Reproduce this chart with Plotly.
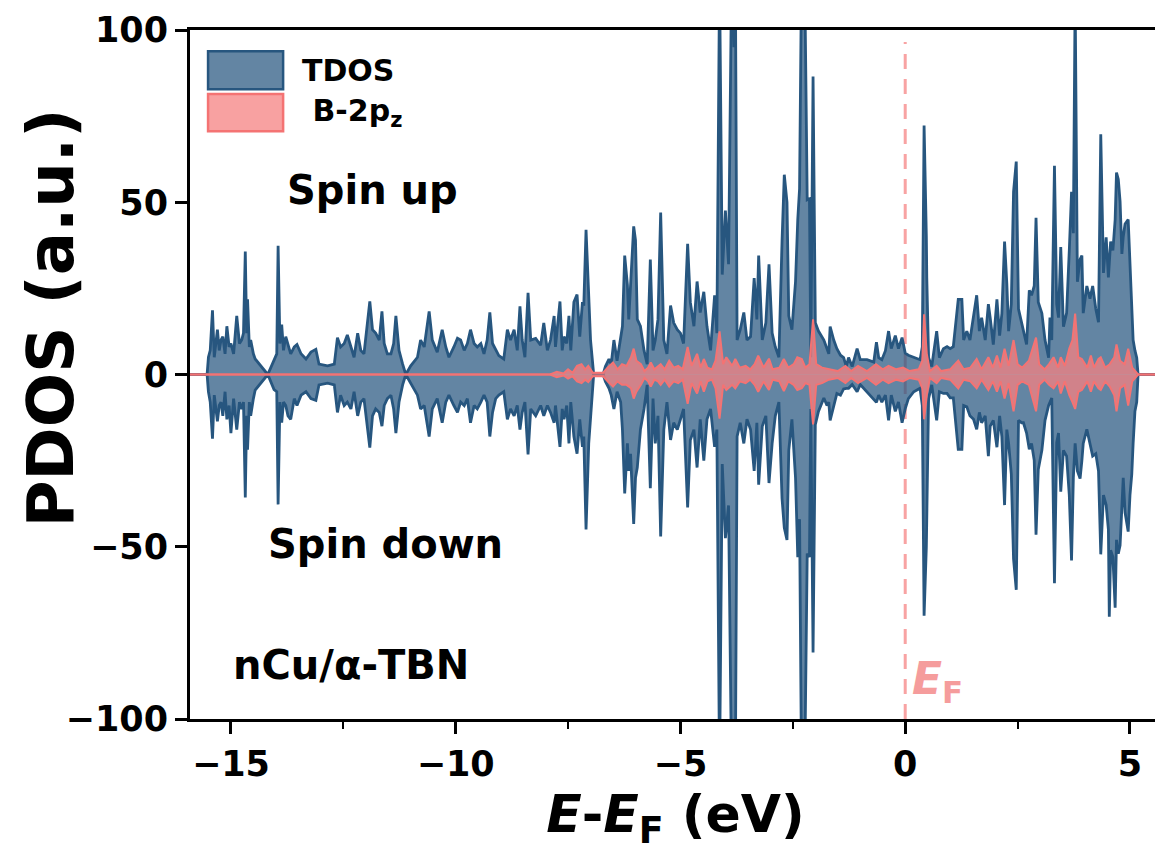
import plotly.graph_objects as go

# ---------------- data ----------------
tdos_energy = [
    -16.2, -15.53, -15.50, -15.46, -15.41, -15.37, -15.30, -15.26, -15.22, -15.18,
    -15.13, -15.09, -15.04, -15.00, -14.94, -14.87, -14.81, -14.76, -14.72, -14.68,
    -14.65, -14.63, -14.59, -14.56, -14.50, -14.46, -14.18, -14.04, -13.98, -13.95,
    -13.91, -13.87, -13.83, -13.78, -13.73, -13.67, -13.59, -13.53, -13.44, -13.33,
    -13.22, -13.11, -13.04, -12.85, -12.70, -12.63, -12.56, -12.48, -12.41, -12.33,
    -12.26, -12.18, -12.11, -12.04, -11.91, -11.85, -11.78, -11.70, -11.64, -11.59,
    -11.52, -11.44, -11.38, -11.33, -11.26, -11.18, -11.11, -11.00, -10.85, -10.78,
    -10.70, -10.59, -10.52, -10.41, -10.30, -10.22, -10.15, -10.04, -9.96, -9.89,
    -9.81, -9.74, -9.67, -9.59, -9.52, -9.44, -9.37, -9.30, -9.24, -9.18,
    -9.11, -9.04, -8.93, -8.85, -8.78, -8.70, -8.63, -8.57, -8.52, -8.46,
    -8.39, -8.33, -8.22, -8.11, -8.04, -7.96, -7.89, -7.81, -7.78, -7.68,
    -7.63, -7.59, -7.53, -7.48, -7.44, -7.37, -7.30, -7.24, -7.18, -7.15,
    -7.10, -7.04, -7.00, -6.93, -6.72, -6.67, -6.59, -6.54, -6.48, -6.41,
    -6.33, -6.29, -6.24, -6.18, -6.15, -6.11, -6.04, -6.00, -5.96, -5.89,
    -5.81, -5.74, -5.67, -5.61, -5.56, -5.50, -5.44, -5.37, -5.30, -5.22,
    -5.15, -5.07, -5.00, -4.93, -4.84, -4.78, -4.70, -4.63, -4.56, -4.48,
    -4.41, -4.33, -4.24, -4.19, -4.13, -4.07, -4.00, -3.93, -3.85, -3.81,
    -3.78, -3.74, -3.67, -3.59, -3.52, -3.44, -3.36, -3.30, -3.26, -3.18,
    -3.10, -3.03, -2.96, -2.89, -2.81, -2.74, -2.69, -2.63, -2.59, -2.52,
    -2.44, -2.39, -2.35, -2.30, -2.24, -2.18, -2.13, -2.10, -2.05, -2.00,
    -1.93, -1.81, -1.74, -1.70, -1.67, -1.59, -1.52, -1.44, -1.37, -1.31,
    -1.26, -1.18, -1.07, -1.00, -0.85, -0.70, -0.64, -0.59, -0.52, -0.44,
    -0.37, -0.31, -0.22, -0.15, -0.07, 0.00, 0.07, 0.19, 0.33, 0.38,
    0.42, 0.47, 0.48, 0.52, 0.59, 0.70, 0.76, 0.85, 0.93, 1.00,
    1.07, 1.18, 1.26, 1.30, 1.37, 1.44, 1.52, 1.59, 1.65, 1.70,
    1.78, 1.85, 1.89, 1.96, 2.04, 2.10, 2.15, 2.21, 2.26, 2.30,
    2.36, 2.41, 2.47, 2.52, 2.59, 2.63, 2.70, 2.76, 2.81, 2.87,
    2.91, 2.96, 3.04, 3.11, 3.19, 3.22, 3.26, 3.32, 3.37, 3.41,
    3.46, 3.52, 3.59, 3.65, 3.70, 3.74, 3.78, 3.83, 3.89, 3.93,
    3.96, 4.04, 4.11, 4.17, 4.24, 4.30, 4.35, 4.41, 4.47, 4.52,
    4.54, 4.57, 4.62, 4.67, 4.70, 4.74, 4.78, 4.82, 4.85, 4.89,
    4.96, 5.00, 5.04, 5.07, 5.11, 5.15, 5.18, 6.2,
]
tdos_up = [
    0, 0, 5, 7, 18.6, 5, 13, 7, 10, 11,
    6, 14, 8, 9, 6, 17, 9, 10, 12, 35.7,
    12, 21.8, 8, 10, 6, 4.5, 0, 4.4, 6, 37.4,
    9, 14.5, 7, 11, 8.5, 6, 8, 8.7, 6, 4.5,
    6.5, 7.3, 3, 2.5, 3, 10.7, 8, 9, 11.5, 8,
    5, 12, 7, 6, 21.2, 13, 12, 10, 18.3, 9,
    6, 6, 9, 17, 7, 3, 0, 2.5, 5, 10,
    8, 18.3, 10, 6.5, 13, 8, 5, 8, 10.5, 10,
    7, 9, 13, 9, 8, 9, 6, 10, 18, 9,
    7, 5.5, 4.5, 13, 10, 13, 7, 19.8, 10, 5,
    23.7, 10, 10.5, 8.5, 15, 7, 10, 17, 8, 21.2,
    7, 11, 9, 17, 7, 21, 23.2, 11, 21, 20,
    42, 20, 10, 0, 0, 2.3, 4.5, 3, 10, 4,
    10, 14, 34.5, 26, 16, 25, 43, 39, 16, 14,
    7, 3, 33.4, 7, 10, 16, 47, 10, 6, 20,
    15, 13, 12, 9, 37.9, 21, 14, 27, 18, 24,
    14, 7, 23, 12, 115, 29, 47.6, 32, 130, 95,
    120, 10, 13, 18, 10, 11, 28, 16, 34.5, 10,
    15, 32, 12, 8, 5, 38.6, 58, 50, 17, 13,
    27, 45, 54, 125, 120, 50.7, 51, 5, 86.5, 15,
    12.6, 10, 7.5, 6, 13.9, 10, 7.5, 5.6, 4.9, 2.3,
    4.9, 2.3, 7.5, 4.3, 4.3, 3.6, 9.4, 4.9, 4.3, 6.9,
    12.6, 7.5, 11.3, 7.5, 10.7, 6.2, 5.6, 4.9, 4.3, 8,
    72.3, 40, 28, 4.9, 2.3, 12.6, 4.9, 7.5, 8.1, 7.5,
    8.1, 21.8, 21.8, 10, 12.6, 10, 17.7, 23, 12.6, 16.5,
    10, 20.4, 16.5, 8.7, 21.8, 11.3, 17.7, 38.6, 26.5, 12.6,
    20.4, 53, 61.8, 19, 15, 12.6, 8.7, 24.4, 23, 25.7,
    45.5, 21, 17.8, 10, 4.9, 16.5, 10, 60.6, 20.4, 16.5,
    37, 13.9, 17.8, 36, 53, 41, 110, 26.9, 33.4, 34.5,
    17.8, 25.7, 22, 25.7, 19, 15.2, 69.7, 29.5, 39.8, 28.2,
    33, 38.6, 36, 45, 58.6, 56.7, 50.2, 35, 40, 43.7,
    45, 30, 20, 10, 7, 4.9, 0, 0,
]
tdos_down = [
    0, 0, -5, -8, -18.6, -6, -13.6, -9, -8, -12,
    -5, -13, -9, -17, -7, -16, -8, -10, -8, -35.7,
    -12, -21.8, -8, -12, -7, -4.5, 0, -4.4, -5, -37.7,
    -8, -14, -8, -9, -12, -13, -7, -9, -6, -5,
    -7, -7.5, -3, -2.5, -3, -11, -6, -9, -8, -10,
    -5, -12, -8, -7, -21.2, -12, -10, -11, -15, -9,
    -7, -6, -10, -17, -8, -3, 0, -2.5, -6, -10,
    -9, -18, -10, -7, -14, -8, -6, -9, -11, -8,
    -9, -7, -14, -9, -10, -8, -6, -8, -18, -11,
    -7, -6, -5, -13, -10, -12, -9, -16, -11, -8,
    -23.2, -10, -12, -9, -12, -9, -11, -14, -9, -21,
    -10, -13, -9, -20, -8, -18, -23, -13, -21, -18,
    -45, -20, -12, 0, 0, -2, -4, -6, -10, -5,
    -8, -16, -34.5, -20, -28, -23, -43.4, -30, -27, -16,
    -10, -3, -33, -7, -20, -12, -47, -16, -8, -19,
    -14, -16, -13, -10, -38.6, -19, -16, -27, -13, -25,
    -13, -10, -21, -16, -115, -26, -47.5, -38, -130, -110,
    -120, -18, -14, -20, -13, -16, -28, -14, -32, -15,
    -12, -31.5, -20, -12, -8, -36, -44.5, -48, -22, -13,
    -30, -53, -42, -125, -120, -52, -53, -10, -80.7, -14.6,
    -10.7, -6.8, -9, -8, -13.3, -9, -5.5, -6, -4.2, -4,
    -4, -2.9, -5, -2.9, -5, -7, -8.1, -6, -8, -6,
    -13.3, -6, -10.7, -8, -14, -10, -7, -5, -4, -9,
    -70, -50, -41.8, -7, -3, -13.3, -5, -5.5, -5.5, -6.8,
    -6.8, -21.7, -21.7, -9, -9.4, -12, -13, -15.9, -11, -14,
    -12, -23.7, -15, -13.3, -21.1, -12, -18, -37.9, -16, -20,
    -28.9, -53.5, -62.5, -13.3, -14, -14, -17, -21.7, -20, -24.9,
    -46.5, -27.6, -22, -13.3, -9, -8, -6.8, -60.6, -19.8, -17,
    -34, -22, -23.7, -35, -54, -30, -20, -28, -30.2, -25,
    -20, -15.9, -20, -23.7, -23, -28, -52.2, -35, -37.9, -45,
    -70.3, -51, -53, -67.7, -48, -52, -49.6, -40, -30, -40,
    -45.6, -35, -28.9, -20, -10.7, -8, 0, 0,
]

b2pz_energy = [
    -16.2, -7.90, -7.75, -7.60, -7.50, -7.40, -7.30, -7.20, -7.12, -7.05,
    -6.95, -6.72, -6.62, -6.50, -6.40, -6.30, -6.20, -6.10, -6.04, -5.98,
    -5.88, -5.80, -5.72, -5.66, -5.58, -5.50, -5.44, -5.35, -5.25, -5.15,
    -5.05, -4.95, -4.84, -4.75, -4.63, -4.55, -4.48, -4.40, -4.30, -4.22,
    -4.13, -4.05, -3.98, -3.85, -3.78, -3.68, -3.55, -3.45, -3.35, -3.27,
    -3.15, -3.03, -2.95, -2.80, -2.70, -2.60, -2.48, -2.40, -2.30, -2.22,
    -2.13, -2.05, -1.98, -1.85, -1.70, -1.50, -1.33, -1.20, -1.05, -0.85,
    -0.65, -0.50, -0.37, -0.20, -0.05, 0.10, 0.30, 0.38, 0.42, 0.48,
    0.55, 0.70, 0.80, 1.00, 1.18, 1.30, 1.45, 1.59, 1.70, 1.85,
    1.95, 2.04, 2.12, 2.21, 2.30, 2.41, 2.50, 2.60, 2.75, 2.91,
    2.98, 3.10, 3.20, 3.30, 3.40, 3.46, 3.55, 3.65, 3.72, 3.78,
    3.85, 3.93, 4.05, 4.13, 4.20, 4.30, 4.35, 4.45, 4.55, 4.65,
    4.70, 4.78, 4.88, 4.96, 5.05, 5.18, 6.2,
]
b2pz_up = [
    0, 0, 0.8, 0.3, 1.5, 0.5, 2.5, 3, 1.5, 2.5,
    0.5, 0.5, 2, 3.5, 1.5, 3, 2.5, 5, 7.5, 4,
    3, 1, 2, 3.5, 1.5, 2.5, 3, 1.5, 4, 2,
    2.5, 1.5, 8, 2.5, 6, 2, 4.5, 2, 1.5, 4,
    12.5, 3, 5, 2.5, 4.5, 2, 2.5, 1.5, 3, 5.5,
    2, 4.6, 1.5, 2, 4.5, 2, 3, 5, 4.5, 2,
    3, 16, 3, 2, 1.5, 1, 2.5, 1, 2.5, 1,
    3, 1.5, 2.5, 1.5, 2, 1, 1.5, 4, 17.5, 6,
    1, 2.5, 1, 1.5, 4, 1.5, 2, 4.5, 1.5, 5,
    2, 5.5, 2, 7.5, 2.5, 10, 3, 2, 4, 10.7,
    3, 1.5, 3, 5, 2, 5, 2.5, 7.5, 10, 17.7,
    5, 4.5, 2, 5.5, 2, 4.5, 5, 2, 3, 5,
    8.7, 4, 3, 7.5, 2, 0, 0,
]
b2pz_down = [
    0, 0, -0.8, -0.3, -1.2, -0.5, -2, -2.5, -1.5, -2.2,
    -0.5, -0.5, -2, -3.5, -2, -3, -3, -4, -7, -5,
    -3, -1, -2, -3.5, -1.5, -2, -3, -1.5, -3.5, -2,
    -2.5, -1.5, -8.5, -2.5, -5.5, -2, -5, -2, -1.5, -4,
    -12.8, -3, -4.5, -3, -4, -2, -2.5, -1.5, -3, -5,
    -2, -4.5, -1.5, -2, -4.8, -2, -3, -4.5, -4, -2.5,
    -3, -14.5, -3, -2.5, -1.5, -1, -2.5, -1, -2.5, -1,
    -3, -1.5, -2.5, -1.5, -2, -1, -1.5, -4, -13, -6,
    -1, -2.5, -1, -1.5, -4, -1.5, -2, -4, -1.5, -4.5,
    -2, -5, -2, -7, -2.5, -10.7, -3, -2, -3, -10.7,
    -3, -1.5, -3, -4, -2, -5.5, -2, -6, -8, -10,
    -5, -4.5, -2, -5, -2, -4, -4.5, -2, -3.5, -6,
    -10.7, -4, -3, -9, -2, 0, 0,
]

x_ticks = [-15, -10, -5, 0, 5]
y_ticks = [-100, -50, 0, 50, 100]
legend_labels = ["TDOS", " B-2p<sub>z</sub>"]

# ---------------- styles ----------------
TDOS_LINE = "#27567F"
TDOS_FILL = "rgba(39,86,127,0.72)"
B_LINE = "#F47373"
B_FILL = "rgba(246,130,130,0.75)"
FONT = "DejaVu Sans, Liberation Sans, sans-serif"


def minus(v):
    return "\u2212%g" % -v if v < 0 else "%g" % v


fig = go.Figure()
for ys in (tdos_up, tdos_down):
    fig.add_trace(go.Scatter(
        x=tdos_energy, y=ys, mode="lines", name="TDOS", showlegend=False,
        line=dict(color=TDOS_LINE, width=2.8), fill="tozeroy", fillcolor=TDOS_FILL))
for ys in (b2pz_up, b2pz_down):
    fig.add_trace(go.Scatter(
        x=b2pz_energy, y=ys, mode="lines", name="B-2pz", showlegend=False,
        line=dict(color=B_LINE, width=2), fill="tozeroy", fillcolor=B_FILL))

# Fermi level line
fig.add_shape(type="line", xref="x", yref="y", x0=0, x1=0, y0=-100, y1=96.5,
              line=dict(color="#F8A3A3", width=3, dash="15px,10px"), layer="below")

# legend drawn as boxes + labels (paper coordinates)
legend_boxes = [
    dict(y0=0.914, y1=0.969, fill=TDOS_FILL, line=TDOS_LINE),
    dict(y0=0.853, y1=0.907, fill=B_FILL, line=B_LINE),
]
for box, label in zip(legend_boxes, legend_labels):
    fig.add_shape(type="rect", xref="paper", yref="paper", x0=0.0186, x1=0.0959,
                  y0=box["y0"], y1=box["y1"], fillcolor=box["fill"],
                  line=dict(color=box["line"], width=2.5))
    fig.add_annotation(xref="paper", yref="paper", x=0.113, y=(box["y0"] + box["y1"]) / 2,
                       xanchor="left", yanchor="middle", showarrow=False,
                       text="<b>%s</b>" % label,
                       font=dict(family=FONT, size=30, color="black"))

annots = [
    dict(x=-11.84, y=53.7, text="Spin up"),
    dict(x=-11.56, y=-49.3, text="Spin down"),
    dict(x=-12.33, y=-84.2, text="nCu/α-TBN"),
]
for a in annots:
    fig.add_annotation(x=a["x"], y=a["y"], xref="x", yref="y", text="<b>%s</b>" % a["text"],
                       showarrow=False, font=dict(family=FONT, size=40, color="black"))
fig.add_annotation(x=0.72, y=-89, xref="x", yref="y",
                   text="<b><i>E</i><sub>F</sub></b>", showarrow=False,
                   font=dict(family=FONT, size=44, color="#F59C9C"))

# y-axis title as a rotated annotation (placed above the axis centre as in the picture)
fig.add_annotation(xref="paper", yref="paper", x=-0.183, y=0.582, textangle=-90,
                   text="<b>PDOS (a.u.)</b>", showarrow=False,
                   font=dict(family=FONT, size=64, color="black"))

axis_common = dict(
    showline=True, linecolor="black", linewidth=3, mirror=True,
    ticks="outside", tickwidth=2.5, tickcolor="black", ticklen=12,
    showgrid=False, zeroline=False, automargin=False,
    tickfont=dict(family=FONT, size=35, color="black", weight="bold"),
)
fig.update_xaxes(range=[-15.91, 5.69], tickvals=x_ticks, ticktext=[minus(v) for v in x_ticks],
                 minor=dict(ticks="outside", ticklen=7, tickwidth=2, tickcolor="black", dtick=2.5, tick0=0),
                 title=dict(text="<b><i>E</i>-<i>E</i><sub>F</sub> (eV)</b>",
                            font=dict(family=FONT, size=52, color="black"), standoff=6),
                 **axis_common)
fig.update_yaxes(range=[-100, 100], tickvals=y_ticks, ticktext=[minus(v) for v in y_ticks],
                 **axis_common)

fig.update_layout(
    width=1155, height=848,
    margin=dict(l=182, r=2, t=22, b=137),
    plot_bgcolor="white", paper_bgcolor="white",
    showlegend=False,
)

fig.write_html("out.html")
